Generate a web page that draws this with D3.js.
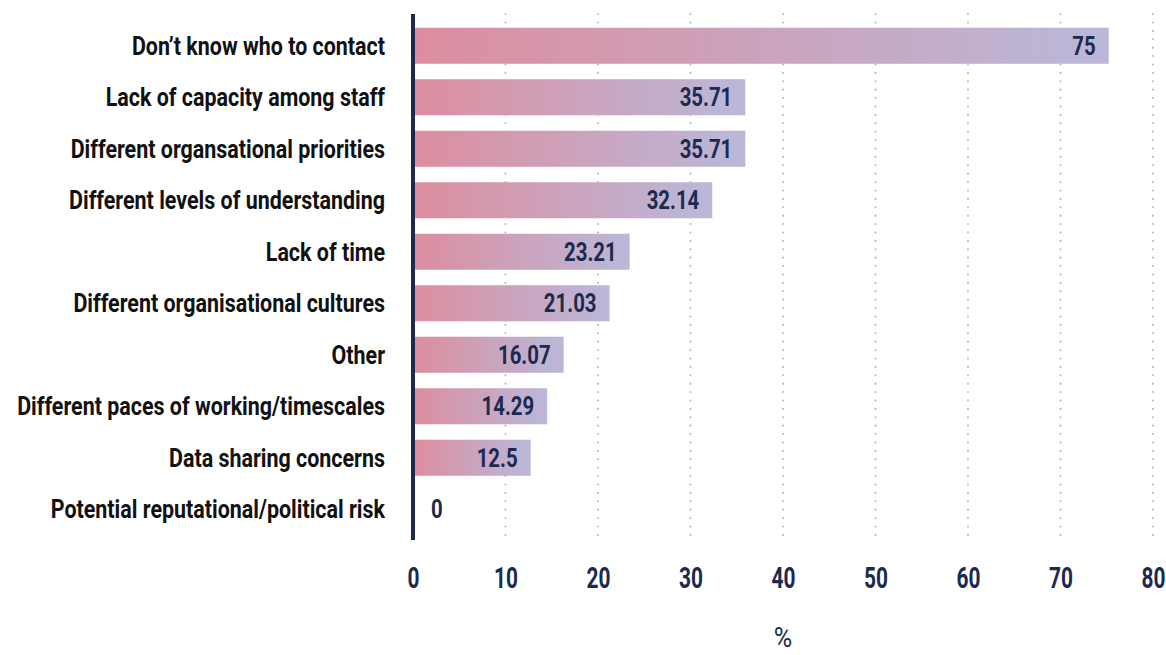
<!DOCTYPE html>
<html>
<head>
<meta charset="utf-8">
<script src="https://cdn.jsdelivr.net/npm/d3@7"></script>
<style>
  html, body { margin: 0; padding: 0; background: #ffffff; }
  svg { display: block; }
  .cond { font-family: "Roboto", "DejaVu Sans", sans-serif; font-weight: 700; }
</style>
</head>
<body>
<svg id="chart" width="1166" height="655"></svg>
<script>
// Barriers to working together (% of respondents)
const categories = [
  "Don\u2019t know who to contact",
  "Lack of capacity among staff",
  "Different organsational priorities",
  "Different levels of understanding",
  "Lack of time",
  "Different organisational cultures",
  "Other",
  "Different paces of working/timescales",
  "Data sharing concerns",
  "Potential reputational/political risk"
];
const values = [75, 35.71, 35.71, 32.14, 23.21, 21.03, 16.07, 14.29, 12.5, 0];
const valueLabels = ["75", "35.71", "35.71", "32.14", "23.21", "21.03", "16.07", "14.29", "12.5", "0"];
const xTicks = [0, 10, 20, 30, 40, 50, 60, 70, 80];
const xTitle = "%";

const navy = "#1c2a50";
const svg = d3.select("#chart");

const x = d3.scaleLinear().domain([0, 80]).range([413, 1153]);
const y = d3.scaleBand().domain(categories).range([20, 535]).paddingInner(0.3).paddingOuter(0.15);

const labelRight = 385;   // right edge of the category label column
const labelColumn = 368;  // available width for the longest label
const barStart = x(0) + 2; // bars begin at the right edge of the baseline

// Horizontal gradient for every bar (pink to lavender)
const defs = svg.append("defs");
const grad = defs.append("linearGradient")
  .attr("id", "barGrad")
  .attr("x1", "0%").attr("x2", "100%").attr("y1", "0%").attr("y2", "0%");
grad.append("stop").attr("offset", "0%").attr("stop-color", "#dc8e9f");
grad.append("stop").attr("offset", "100%").attr("stop-color", "#bab8d9");

// Dotted vertical grid lines
svg.append("g")
  .selectAll("line")
  .data(xTicks.filter(d => d > 0))
  .join("line")
  .attr("x1", d => x(d)).attr("x2", d => x(d))
  .attr("y1", 14).attr("y2", 540)
  .attr("stroke", "#b9b5d9")
  .attr("stroke-width", 2)
  .attr("stroke-linecap", "round")
  .attr("stroke-dasharray", "0.1 8.3");

// Bars
svg.append("g")
  .selectAll("rect")
  .data(values)
  .join("rect")
  .attr("x", barStart)
  .attr("y", (d, i) => y(categories[i]))
  .attr("width", d => x(d) - x(0))
  .attr("height", y.bandwidth())
  .attr("fill", "url(#barGrad)");

// Category labels (condensed horizontally to fit the label column)
const catLabels = svg.append("g")
  .selectAll("text")
  .data(categories)
  .join("text")
  .attr("class", "cond")
  .attr("text-anchor", "end")
  .attr("dy", "0.36em")
  .attr("fill", "#111111")
  .attr("font-size", 25)
  .text(d => d);
const maxW = d3.max(catLabels.nodes(), n => n.getComputedTextLength());
const sx = labelColumn / maxW;
catLabels.attr("transform", d => `translate(${labelRight},${y(d) + y.bandwidth() / 2}) scale(${sx},1)`);

// Value labels
svg.append("g")
  .selectAll("text")
  .data(values)
  .join("text")
  .attr("class", "cond")
  .attr("dy", "0.36em")
  .attr("text-anchor", d => d > 5 ? "end" : "start")
  .attr("fill", navy)
  .attr("font-size", 25)
  .attr("transform", (d, i) => {
    const tx = d > 5 ? barStart + x(d) - x(0) - 13 : barStart + 16;
    return `translate(${tx},${y(categories[i]) + y.bandwidth() / 2}) scale(${sx * 0.95},1)`;
  })
  .text((d, i) => valueLabels[i]);

// Baseline axis
svg.append("line")
  .attr("x1", x(0)).attr("x2", x(0))
  .attr("y1", 14).attr("y2", 540)
  .attr("stroke", navy)
  .attr("stroke-width", 4);

// X axis tick labels
const xAxis = d3.axisBottom(x).tickValues(xTicks).tickSize(0).tickPadding(0);
const gx = svg.append("g").attr("transform", "translate(0,578)").call(xAxis);
gx.select(".domain").remove();
gx.selectAll("text")
  .attr("class", "cond")
  .attr("dy", "0.36em")
  .attr("y", 0)
  .attr("fill", navy)
  .attr("font-size", 29)
  .attr("transform", "scale(0.72,1)");

// Axis title
svg.append("text")
  .attr("transform", "translate(783,637) scale(0.9,1)")
  .attr("dy", "0.36em")
  .attr("text-anchor", "middle")
  .attr("font-family", "Roboto, sans-serif")
  .attr("fill", navy)
  .attr("font-size", 28)
  .text(xTitle);
</script>
</body>
</html>
